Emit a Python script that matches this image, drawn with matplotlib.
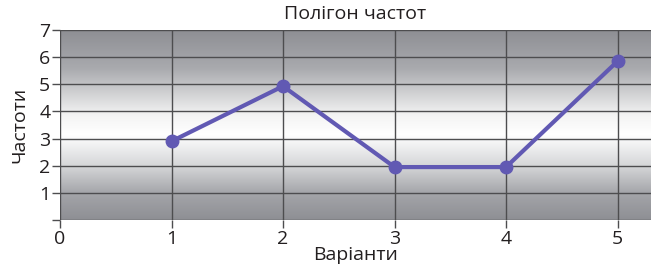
import numpy as np
import matplotlib
matplotlib.use('Agg')
import matplotlib.pyplot as plt
from matplotlib.colors import LinearSegmentedColormap

plt.rcParams['font.family'] = ['Open Sans', 'DejaVu Sans']

variants = [1, 2, 3, 4, 5]
freqs = [2.9, 4.93, 1.95, 1.95, 5.85]
x_ticks = [0, 1, 2, 3, 4, 5]
y_ticks = [0, 1, 2, 3, 4, 5, 6, 7]
y_labels = ['', '1', '2', '3', '4', '5', '6', '7']

fig = plt.figure(figsize=(6.51, 2.72), dpi=100)
ax = fig.add_axes([60/651, 1 - 220/272, 591/651, 190/272])

# vertical gray-white-gray gradient background
bg = LinearSegmentedColormap.from_list('bg', [
    (0.0, '#8e8f94'), (0.2, '#a9aaae'), (0.45, '#f4f4f4'),
    (0.55, '#ffffff'), (0.72, '#d4d5d7'), (0.86, '#a4a5a9'),
    (1.0, '#8e8f94')])
grad = np.linspace(0, 1, 256).reshape(-1, 1)
ax.imshow(grad, cmap=bg, aspect='auto', extent=[0, 5.3, 0, 7],
          origin='upper', zorder=0)

ax.set_xlim(0, 5.3)
ax.set_ylim(0, 7)
ax.set_xticks(x_ticks)
ax.set_yticks(y_ticks)
ax.set_yticklabels(y_labels)
ax.grid(True, color='#4d4d4f', linewidth=1.0, zorder=1)
ax.set_axisbelow(False)
for s in ax.spines.values():
    s.set_visible(False)
ax.tick_params(axis='both', length=6, width=1, color='#4d4d4f',
               labelsize=14, labelcolor='#231f20', pad=1)

ax.plot(variants, freqs, color='#6159b3', linewidth=3, marker='o',
        markersize=9, zorder=3)

ax.set_title('Полігон частот', fontsize=14, color='#231f20', pad=8)
ax.set_xlabel('Варіанти', fontsize=14, color='#231f20', labelpad=-1)
ax.set_ylabel('Частоти', fontsize=14, color='#231f20', labelpad=8)

fig.savefig('out.png', dpi=100)
